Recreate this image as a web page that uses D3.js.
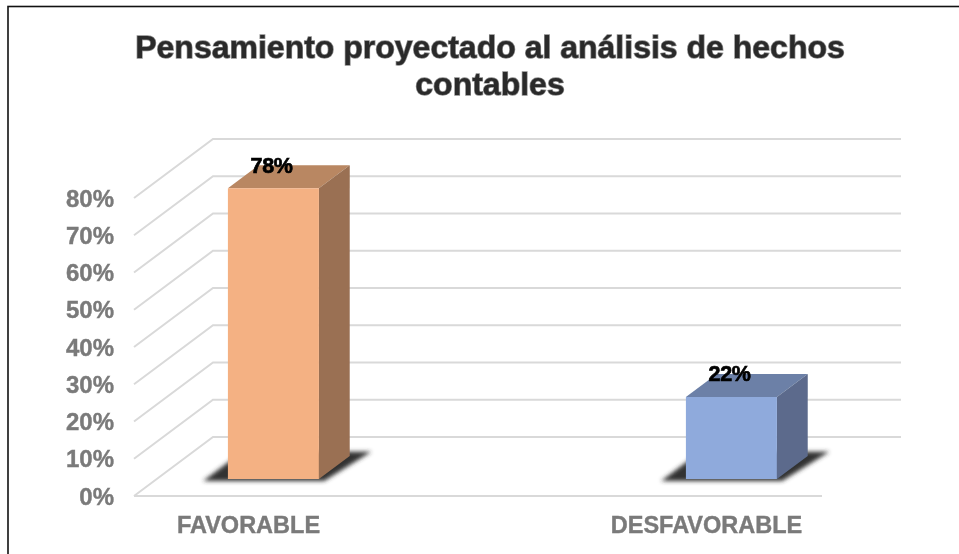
<!DOCTYPE html>
<html><head><meta charset="utf-8">
<script src="https://cdn.jsdelivr.net/npm/d3@7"></script>
<style>html,body{margin:0;padding:0;background:#fff}svg{display:block}
text{font-family:"Liberation Sans",Arial,sans-serif;font-weight:bold}</style></head>
<body><svg id="c" width="959" height="554"></svg>
<script>
const categories=["FAVORABLE","DESFAVORABLE"];
const values=[78,22];
const valueLabels=["78%","22%"];
const tickValues=[0,10,20,30,40,50,60,70,80];
const titleLines=["Pensamiento proyectado al análisis de hechos","contables"];
const frontColors=["#f4b183","#8faadc"];
const topColors=["#b98762","#6c80a7"];
const sideColors=["#9a7053","#5b6b8c"];

const W=959,H=554;
const svg=d3.select("#c").attr("viewBox",[0,0,W,H]);
const defs=svg.append("defs");
defs.append("filter").attr("id","soft").attr("x","-5%").attr("y","-5%").attr("width","110%").attr("height","110%")
  .append("feGaussianBlur").attr("stdDeviation",0.6);
defs.append("filter").attr("id","shadow").attr("x","-20%").attr("y","-30%").attr("width","140%").attr("height","160%")
  .append("feGaussianBlur").attr("stdDeviation",2.2);

const y=d3.scaleLinear().domain([0,80]).range([496,198]);
const x=d3.scalePoint().domain(categories).range([249.5,707.5]);
const depthX=d3.scaleLinear().domain([0,1]).range([0,79]);
const depthY=d3.scaleLinear().domain([0,1]).range([0,-59]);
const floorLeft=134,floorRight=822;
const pt=(px,v,d)=>[px+depthX(d),y(v)+depthY(d)];
const line=d3.line();

svg.append("rect").attr("x",8).attr("y",6.5).attr("width",W+20).attr("height",H+20)
  .attr("fill","#fff").attr("stroke","#111").attr("stroke-width",1.6);

const g=svg.append("g").attr("filter","url(#soft)");
const grid=g.append("g").attr("fill","none").attr("stroke","#d9d9d9").attr("stroke-width",2);
tickValues.forEach(v=>{
  grid.append("path").attr("d",line([pt(floorLeft,v,0),pt(floorLeft,v,1),pt(floorRight,v,1)]));
});
grid.append("path").attr("d",line([pt(floorLeft,0,0),pt(floorRight,0,0)]));

const d0=0.29,d1=0.68,half=45.5,shift=1;
categories.forEach((c,i)=>{
  const cx=x(c)+shift;
  const l=cx-half,r=cx+half,v=values[i];
  svg.append("path").attr("filter","url(#shadow)").attr("fill","#333")
    .attr("d",line([pt(l-22,0,d0-0.035),pt(l-22,0,d1+0.07),pt(r+16,0,d1+0.07),pt(r+8,0,d0-0.035)])+"Z");
  const b=svg.append("g").attr("filter","url(#soft)");
  b.append("path").attr("fill",topColors[i]).attr("d",line([pt(l,v,d0),pt(r,v,d0),pt(r,v,d1),pt(l,v,d1)])+"Z");
  b.append("path").attr("fill",sideColors[i]).attr("d",line([pt(r,0,d0),pt(r,0,d1),pt(r,v,d1),pt(r,v,d0)])+"Z");
  b.append("path").attr("fill",frontColors[i]).attr("d",line([pt(l,0,d0),pt(r,0,d0),pt(r,v,d0),pt(l,v,d0)])+"Z");
});

const t=svg.append("g").attr("filter","url(#soft)");
tickValues.forEach(v=>{
  t.append("text").attr("x",114).attr("y",y(v)+8.5).attr("text-anchor","end")
   .attr("font-size",24).attr("fill","#7a7a7a").attr("stroke","#7a7a7a").attr("stroke-width",0.4)
   .text(v+"%");
});
categories.forEach(c=>{
  t.append("text").attr("x",x(c)-1).attr("y",533).attr("text-anchor","middle")
   .attr("font-size",23.5).attr("fill","#7a7a7a").attr("stroke","#7a7a7a").attr("stroke-width",0.4)
   .text(c);
});
categories.forEach((c,i)=>{
  t.append("text").attr("x",x(c)+22).attr("y",y(values[i])+depthY(0.68)+7.5).attr("text-anchor","middle")
   .attr("font-size",21.5).attr("letter-spacing",-0.4).attr("fill","#000").attr("stroke","#000").attr("stroke-width",0.7)
   .text(valueLabels[i]);
});
titleLines.forEach((s,i)=>{
  t.append("text").attr("x",490).attr("y",[58,95][i]).attr("text-anchor","middle")
   .attr("font-size",32).attr("fill","#2b2b2b").attr("stroke","#8a8a8a").attr("stroke-width",1.4).attr("paint-order","stroke")
   .text(s);
});
</script></body></html>
